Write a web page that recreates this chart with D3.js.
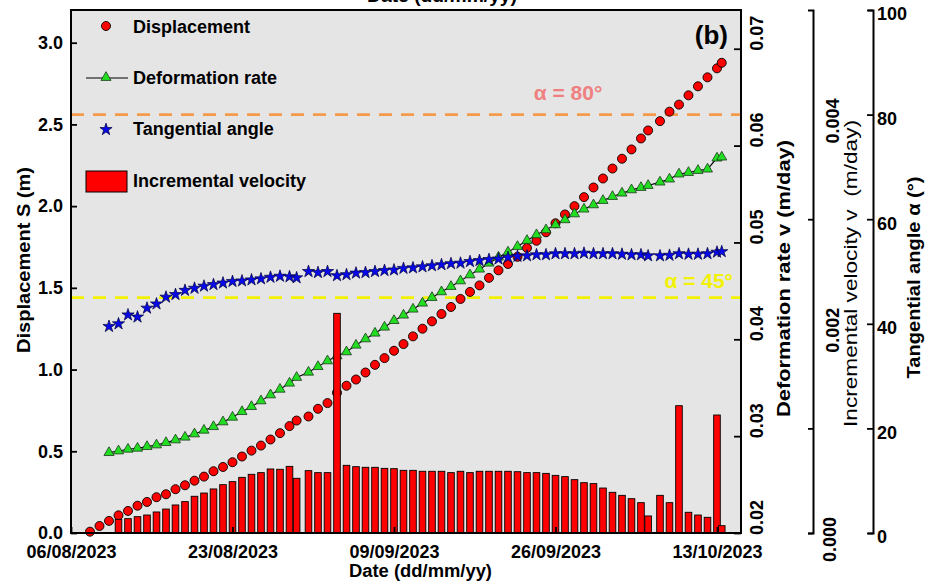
<!DOCTYPE html>
<html>
<head>
<meta charset="utf-8">
<script src="https://cdn.jsdelivr.net/npm/d3@7"></script>
<style>
  html, body { margin: 0; padding: 0; background: #ffffff; }
  svg { display: block; font-family: "Liberation Sans", Arial, Helvetica, sans-serif; }
</style>
</head>
<body>
<svg id="chart" width="925" height="583"></svg>
<script>
// Monitoring dates (UTC); two half-day readings sit between regular daily ones
const dates = [
  "2023-08-08","2023-08-09","2023-08-10","2023-08-11","2023-08-12","2023-08-13","2023-08-14","2023-08-15","2023-08-16","2023-08-17",
  "2023-08-18","2023-08-19","2023-08-20","2023-08-21","2023-08-22","2023-08-23","2023-08-24","2023-08-25","2023-08-26","2023-08-27",
  "2023-08-28","2023-08-29","2023-08-29T18:00Z","2023-08-31","2023-09-01","2023-09-02","2023-09-03","2023-09-04","2023-09-05","2023-09-06",
  "2023-09-07","2023-09-08","2023-09-09","2023-09-10","2023-09-11","2023-09-12","2023-09-13","2023-09-14","2023-09-15","2023-09-16",
  "2023-09-17","2023-09-18","2023-09-19","2023-09-20","2023-09-21","2023-09-22","2023-09-23","2023-09-24","2023-09-25","2023-09-26",
  "2023-09-27","2023-09-28","2023-09-29","2023-09-30","2023-10-01","2023-10-02","2023-10-03","2023-10-04","2023-10-05","2023-10-05T18:00Z",
  "2023-10-07","2023-10-08","2023-10-09","2023-10-10","2023-10-11","2023-10-12","2023-10-13","2023-10-13T12:00Z"
];

// Cumulative displacement S (m)
const displacement = [
  0.008,0.043,0.074,0.108,0.135,0.167,0.190,0.219,0.237,0.268,
  0.292,0.320,0.345,0.378,0.404,0.433,0.468,0.504,0.535,0.572,
  0.611,0.654,0.688,0.713,0.760,0.795,0.858,0.901,0.939,0.982,
  1.029,1.070,1.115,1.156,1.203,1.250,1.295,1.340,1.383,1.432,
  1.475,1.515,1.561,1.607,1.646,1.690,1.744,1.788,1.840,1.895,
  1.949,2.000,2.055,2.114,2.169,2.230,2.290,2.347,2.414,2.463,
  2.520,2.578,2.621,2.678,2.733,2.788,2.843,2.877
];

// Deformation rate v (m/day)
const deformationRate = [
  null,null,0.02830,0.02847,0.02865,0.02875,0.02892,0.02909,0.02933,0.02961,
  0.02989,0.03023,0.03061,0.03098,0.03147,0.03195,0.03253,0.03305,0.03364,0.03426,
  0.03484,0.03547,0.03606,0.03660,0.03718,0.03777,0.03829,0.03870,0.03939,0.04004,
  0.04063,0.04125,0.04193,0.04249,0.04311,0.04373,0.04431,0.04490,0.04545,0.04603,
  0.04665,0.04724,0.04786,0.04848,0.04900,0.04958,0.05020,0.05079,0.05130,0.05182,
  0.05234,0.05295,0.05344,0.05388,0.05433,0.05474,0.05509,0.05543,0.05567,0.05588,
  0.05623,0.05654,0.05706,0.05722,0.05743,0.05757,0.05871,0.05881
];

// Tangential angle alpha (degrees)
const tangentialAngle = [
  null,null,39.5,40.0,41.7,41.3,43.0,43.8,45.1,45.6,
  46.4,46.8,47.2,47.5,47.8,48.1,48.2,48.4,48.6,48.9,
  49.1,49.0,48.8,50.0,49.8,50.0,49.2,49.4,49.7,49.8,
  50.0,50.2,50.3,50.6,50.7,50.9,51.1,51.3,51.5,51.6,
  51.9,52.1,52.3,52.4,52.7,52.9,53.0,53.2,53.2,53.4,
  53.4,53.4,53.5,53.4,53.4,53.4,53.3,53.2,53.2,53.0,
  53.0,53.1,53.4,53.3,53.3,53.4,53.7,53.8
];

// Incremental velocity (m/day)
const incrementalVelocity = [
  null,null,null,0.000131,0.000137,0.000156,0.000172,0.000201,0.000229,0.000268,
  0.000300,0.000351,0.000382,0.000421,0.000462,0.000491,0.000532,0.000561,0.000577,0.000612,
  0.000609,0.000637,0.000523,0.000596,0.000577,0.000577,0.002100,0.000647,0.000634,0.000628,
  0.000628,0.000618,0.000615,0.000599,0.000599,0.000590,0.000590,0.000590,0.000577,0.000590,
  0.000577,0.000590,0.000590,0.000590,0.000590,0.000586,0.000577,0.000577,0.000570,0.000551,
  0.000539,0.000510,0.000481,0.000472,0.000430,0.000389,0.000360,0.000328,0.000290,0.000163,
  0.000360,0.000290,0.001217,0.000198,0.000172,0.000150,0.001128,0.000070
];

// Axis ticks
const dateTicks = ["2023-08-06","2023-08-23","2023-09-09","2023-09-26","2023-10-13"];
const dispTicks = [0, 0.5, 1.0, 1.5, 2.0, 2.5, 3.0];
const rateTicks = [0.02, 0.03, 0.04, 0.05, 0.06, 0.07];
const velLabelTicks = [0, 0.002, 0.004];
const velMarkTicks = [0, 0.001, 0.003];
const angleTicks = [0, 20, 40, 60, 80, 100];

// Threshold angles for the dashed reference lines
const thresholdAngles = [80, 45];
const thresholdLabels = ["\u03b1 = 80\u00b0", "\u03b1 = 45\u00b0"];

// ---------------------------------------------------------------
const svg = d3.select("#chart");
const P = { left: 71, right: 741, top: 10, bottom: 533 };

const time = dates.map(d => d3.isoParse(d));

const x = d3.scaleUtc()
  .domain([d3.isoParse("2023-08-06"), d3.isoParse("2023-10-15T12:40:00Z")])
  .range([P.left, P.right]);
const yDisp = d3.scaleLinear().domain([0, 3.2]).range([P.bottom, P.top]);
const yRate = d3.scaleLinear().domain([0.02, 0.074]).range([P.bottom, P.top]);
const yVel = d3.scaleLinear().domain([0, 0.005]).range([P.bottom, P.top]);
const yAng = d3.scaleLinear().domain([0, 100]).range([P.bottom, P.top]);

// Plot background
svg.append("rect")
  .attr("x", P.left).attr("y", P.top)
  .attr("width", P.right - P.left).attr("height", P.bottom - P.top)
  .attr("fill", "#e5e5e5");

// Threshold lines
const thrColors = ["#f39a4b", "#f2f200"];
thresholdAngles.forEach((a, i) => {
  svg.append("line")
    .attr("x1", P.left).attr("x2", P.right)
    .attr("y1", yAng(a)).attr("y2", yAng(a))
    .attr("stroke", thrColors[i]).attr("stroke-width", 2.6)
    .attr("stroke-dasharray", "13,9");
});

// Displacement circles
svg.append("g").selectAll("circle")
  .data(displacement.map((v, i) => ({ t: time[i], v })))
  .join("circle")
  .attr("cx", d => x(d.t)).attr("cy", d => yDisp(d.v)).attr("r", 4.5)
  .attr("fill", "#ff0000").attr("stroke", "#000").attr("stroke-width", 0.9);

// Deformation rate line + triangles
const rateData = deformationRate.map((v, i) => ({ t: time[i], v })).filter(d => d.v != null);
svg.append("path")
  .datum(rateData)
  .attr("d", d3.line().x(d => x(d.t)).y(d => yRate(d.v)))
  .attr("fill", "none").attr("stroke", "#000").attr("stroke-width", 1.1);
const tri = d3.symbol().type(d3.symbolTriangle).size(44);
svg.append("g").selectAll("path")
  .data(rateData)
  .join("path")
  .attr("d", tri)
  .attr("transform", d => `translate(${x(d.t)},${yRate(d.v)})`)
  .attr("fill", "#22dd22").attr("stroke", "#1a3a1a").attr("stroke-width", 0.8);

// Tangential angle stars
const angData = tangentialAngle.map((v, i) => ({ t: time[i], v })).filter(d => d.v != null);
const star = d3.symbol().type(d3.symbolStar).size(46);
svg.append("g").selectAll("path")
  .data(angData)
  .join("path")
  .attr("d", star)
  .attr("transform", d => `translate(${x(d.t)},${yAng(d.v)})`)
  .attr("fill", "#0808e8").attr("stroke", "#00003a").attr("stroke-width", 0.7);

// Incremental velocity bars
const velData = incrementalVelocity.map((v, i) => ({ t: time[i], v })).filter(d => d.v != null);
const barW = 6.6;
svg.append("g").selectAll("rect")
  .data(velData)
  .join("rect")
  .attr("x", d => x(d.t) - barW / 2).attr("y", d => yVel(d.v))
  .attr("width", barW).attr("height", d => yVel(0) - yVel(d.v))
  .attr("fill", "#ff0000").attr("stroke", "#000").attr("stroke-width", 0.9);

// Threshold labels
svg.append("text").text(thresholdLabels[0])
  .attr("x", 568).attr("y", 100).attr("text-anchor", "middle")
  .attr("fill", "#f08080").attr("font-weight", "bold").attr("font-size", "21px");
svg.append("text").text(thresholdLabels[1])
  .attr("x", 733).attr("y", 288).attr("text-anchor", "end")
  .attr("fill", "#f2f200").attr("font-weight", "bold").attr("font-size", "21px");

// Panel tag
svg.append("text").text("(b)")
  .attr("x", 728).attr("y", 44).attr("text-anchor", "end")
  .attr("font-weight", "bold").attr("font-size", "26px");

// Frame
svg.append("rect")
  .attr("x", P.left).attr("y", P.top)
  .attr("width", P.right - P.left).attr("height", P.bottom - P.top)
  .attr("fill", "none").attr("stroke", "#000").attr("stroke-width", 2);

function styleAxis(g) {
  g.selectAll("line").attr("stroke", "#000").attr("stroke-width", 1.8);
  g.selectAll("path.domain").attr("stroke", "#000").attr("stroke-width", 2);
  g.selectAll("text").attr("fill", "#000").attr("font-family", null)
    .attr("font-size", "18px").attr("font-weight", "bold");
}

// Left axis: displacement
const gL = svg.append("g").attr("transform", `translate(${P.left},0)`)
  .call(d3.axisLeft(yDisp).tickValues(dispTicks).tickFormat(d3.format(".1f"))
    .tickSizeInner(-6).tickSizeOuter(0).tickPadding(8));
gL.select(".domain").remove();
styleAxis(gL);

// Bottom axis: dates
const gB = svg.append("g").attr("transform", `translate(0,${P.bottom})`)
  .call(d3.axisBottom(x).tickValues(dateTicks.map(d3.isoParse)).tickFormat(d3.utcFormat("%d/%m/%Y"))
    .tickSizeInner(-6).tickSizeOuter(0).tickPadding(12));
gB.select(".domain").remove();
styleAxis(gB);

// Right axis 1: deformation rate (rotated labels)
const gR1 = svg.append("g").attr("transform", `translate(${P.right},0)`)
  .call(d3.axisRight(yRate).tickValues(rateTicks).tickFormat(d3.format(".2f"))
    .tickSizeInner(-7).tickSizeOuter(0));
gR1.select(".domain").remove();
styleAxis(gR1);
gR1.selectAll("text").attr("x", null).attr("dy", null)
  .attr("text-anchor", "middle")
  .attr("transform", "translate(22,-16) rotate(-90)");

// Right axis 2: incremental velocity
const X2 = 813;
const gR2 = svg.append("g").attr("transform", `translate(${X2},0)`)
  .call(d3.axisLeft(yVel).tickValues(velMarkTicks).tickFormat("")
    .tickSizeInner(5).tickSizeOuter(5));
styleAxis(gR2);
const gR2l = svg.append("g").attr("transform", `translate(${X2},0)`)
  .call(d3.axisRight(yVel).tickValues(velLabelTicks).tickFormat(d3.format(".3f")).tickSize(0));
gR2l.select(".domain").remove();
styleAxis(gR2l);
gR2l.selectAll("text").attr("x", null).attr("dy", null)
  .attr("text-anchor", "middle")
  .attr("transform", d => d === 0 ? "translate(23,6) rotate(-90)" : "translate(26,6) rotate(-90)");

// Right axis 3: tangential angle
const X3 = 873;
const gR3 = svg.append("g").attr("transform", `translate(${X3},0)`)
  .call(d3.axisRight(yAng).tickValues(angleTicks).tickFormat(d3.format("d"))
    .tickSizeInner(-6).tickSizeOuter(-5).tickPadding(4));
styleAxis(gR3);
gR3.selectAll("text").attr("dy", "0.55em");

// Axis titles
function title(txt, tx, ty, rot, len, weight) {
  return svg.append("text").text(txt)
    .attr("text-anchor", "middle")
    .attr("font-size", "18px").attr("font-weight", weight)
    .attr("textLength", len).attr("lengthAdjust", "spacingAndGlyphs")
    .style("white-space", "pre")
    .attr("transform", `translate(${tx},${ty})` + (rot ? " rotate(-90)" : ""));
}
title("Displacement S (m)", 30, 260, true, 186, "bold");
title("Date (dd/mm/yy)", 420.5, 577, false, 143, "bold");
title("Date (dd/mm/yy)", 442, 2, false, 150, "bold");
title("Deformation rate v (m/day)", 790, 278.5, true, 277, "bold");
title("Incremental velocity v  (m/day)", 857, 273.5, true, 307, "normal");
title("Tangential angle \u03b1 (\u00b0)", 920, 277.5, true, 202, "bold");

// Legend
const legX = 106, legTextX = 133;
svg.append("circle").attr("cx", legX).attr("cy", 26).attr("r", 4.5)
  .attr("fill", "#ff0000").attr("stroke", "#000").attr("stroke-width", 0.9);
svg.append("line").attr("x1", 86).attr("x2", 128).attr("y1", 78).attr("y2", 78)
  .attr("stroke", "#000").attr("stroke-width", 1.2);
svg.append("path").attr("d", tri).attr("transform", `translate(${legX},77.5)`)
  .attr("fill", "#22dd22").attr("stroke", "#1a3a1a").attr("stroke-width", 0.8);
svg.append("path").attr("d", star).attr("transform", `translate(${legX},129.5)`)
  .attr("fill", "#0808e8").attr("stroke", "#00003a").attr("stroke-width", 0.7);
svg.append("rect").attr("x", 86).attr("y", 171).attr("width", 41).attr("height", 21)
  .attr("fill", "#ff0000").attr("stroke", "#000").attr("stroke-width", 1);
const legendNames = ["Displacement", "Deformation rate", "Tangential angle", "Incremental velocity"];
const legendBase = [32.5, 84, 135, 186.5];
legendNames.forEach((n, i) => {
  svg.append("text").text(n).attr("x", legTextX).attr("y", legendBase[i])
    .attr("font-size", "18px").attr("font-weight", "bold");
});
</script>
</body>
</html>
